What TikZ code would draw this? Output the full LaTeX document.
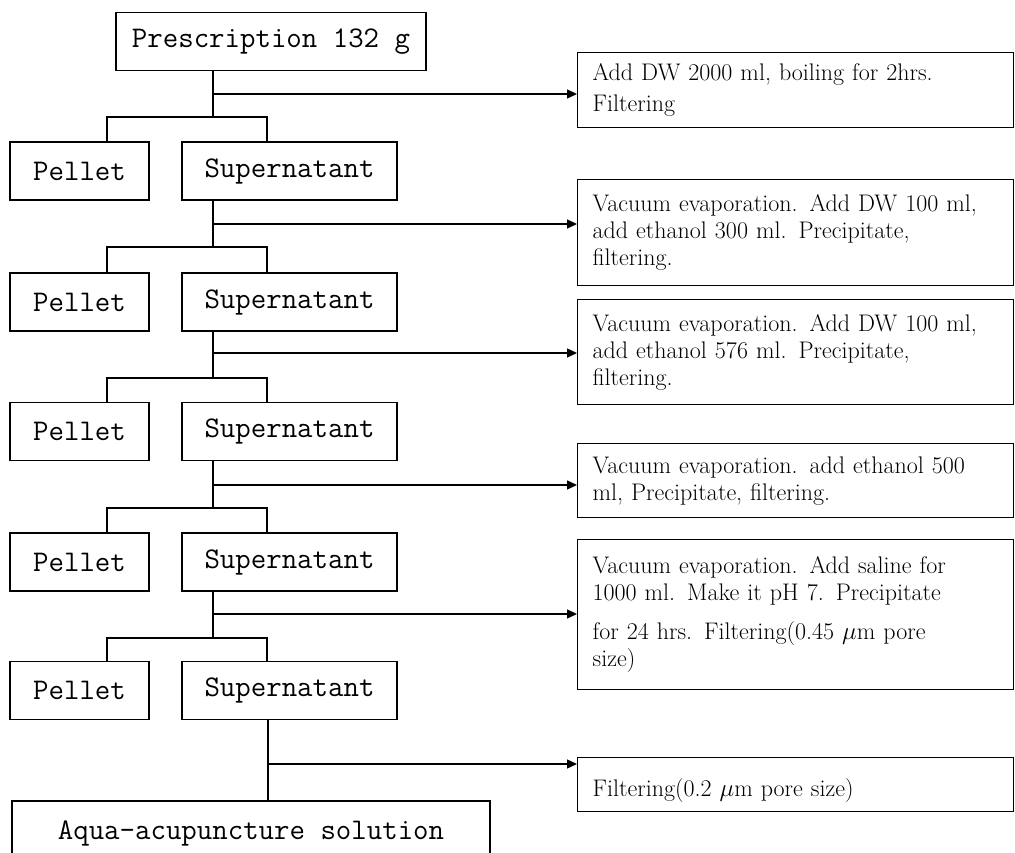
\documentclass[tikz,border=0pt]{standalone}
\usepackage{fontspec}
\usepackage{tikz}
\usetikzlibrary{calc,positioning,arrows.meta}

\begin{document}
\begin{tikzpicture}[x=1pt, y=-1pt, line width=1.3pt,
    stage/.style={draw,rectangle,inner sep=0pt,minimum height=58pt,font=\ttfamily\fontsize{30}{34}\selectfont},
    note/.style={draw,rectangle,anchor=north west,inner xsep=15pt,inner ysep=0pt,text width=406pt,align=left,font=\fontsize{24}{27}\selectfont},
    flow/.style={-{Triangle[length=10pt,width=9pt]}}]
    \useasboundingbox (0,0) rectangle (1015,853);

    % left column (pellet / supernatant pairs)
    \node[stage,minimum width=310pt] (pres) at (271,41.5) {Prescription 132 g};
    \node[stage,minimum width=139pt] (pel1) at (79.5,171) {Pellet};
    \node[stage,minimum width=215pt] (sup1) at (289.5,171) {Supernatant};
    \node[stage,minimum width=139pt] (pel2) at (79.5,302) {Pellet};
    \node[stage,minimum width=215pt] (sup2) at (289.5,302) {Supernatant};
    \node[stage,minimum width=139pt] (pel3) at (79.5,431.5) {Pellet};
    \node[stage,minimum width=215pt] (sup3) at (289.5,431.5) {Supernatant};
    \node[stage,minimum width=139pt] (pel4) at (79.5,562) {Pellet};
    \node[stage,minimum width=215pt] (sup4) at (289.5,562) {Supernatant};
    \node[stage,minimum width=139pt] (pel5) at (79.5,690.5) {Pellet};
    \node[stage,minimum width=215pt] (sup5) at (289.5,690.5) {Supernatant};
    \node[stage,minimum width=478pt,minimum height=64pt] (aqua) at (251,833) {Aqua-acupuncture solution};

    % right column (treatment steps)
    \node[note,minimum height=75pt] (step1) at (577,52) {Add DW 2000 ml, boiling for 2hrs.\\[4pt] Filtering};
    \node[note,minimum height=106pt] (step2) at (577,179) {Vacuum evaporation. Add DW 100 ml,\\ add ethanol 300 ml. Precipitate,\\ filtering.};
    \node[note,minimum height=105pt] (step3) at (577,299) {Vacuum evaporation. Add DW 100 ml,\\ add ethanol 576 ml. Precipitate,\\ filtering.};
    \node[note,minimum height=74pt] (step4) at (577,443) {Vacuum evaporation. add ethanol 500\\ ml, Precipitate, filtering.};
    \node[note,minimum height=150pt] (step5) at (577,539) {Vacuum evaporation. Add saline for\\ 1000 ml. Make it pH 7. Precipitate\\[12pt] for 24 hrs. Filtering(0.45 $\mu$m pore\\ size)};
    \node[note,minimum height=54pt] (step6) at (577,757) {\strut\\[-16pt]Filtering(0.2 $\mu$m pore size)};

    % junctions
    \coordinate (j1) at (213,117);
    \coordinate (j2) at (213,247);
    \coordinate (j3) at (213,378);
    \coordinate (j4) at (213,508);
    \coordinate (j5) at (213,638);
    \coordinate (k1) at (213,94);
    \coordinate (k2) at (213,224);
    \coordinate (k3) at (213,353);
    \coordinate (k4) at (213,485);
    \coordinate (k5) at (213,614);
    \coordinate (k6) at (268,764);

    % splitting into pellet and supernatant
    \draw (pres.south -| j1) -- (j1);
    \draw ($(pel1.north)+(27.5,0)$) |- (j1) -| ($(sup1.north)+(-22.5,0)$);
    \draw (sup1.south -| j2) -- (j2);
    \draw ($(pel2.north)+(27.5,0)$) |- (j2) -| ($(sup2.north)+(-22.5,0)$);
    \draw (sup2.south -| j3) -- (j3);
    \draw ($(pel3.north)+(27.5,0)$) |- (j3) -| ($(sup3.north)+(-22.5,0)$);
    \draw (sup3.south -| j4) -- (j4);
    \draw ($(pel4.north)+(27.5,0)$) |- (j4) -| ($(sup4.north)+(-22.5,0)$);
    \draw (sup4.south -| j5) -- (j5);
    \draw ($(pel5.north)+(27.5,0)$) |- (j5) -| ($(sup5.north)+(-22.5,0)$);
    \draw (sup5.south -| k6) -- (aqua.north -| k6);

    % side arrows to the steps
    \draw[flow] (k1) -- (k1 -| step1.west);
    \draw[flow] (k2) -- (k2 -| step2.west);
    \draw[flow] (k3) -- (k3 -| step3.west);
    \draw[flow] (k4) -- (k4 -| step4.west);
    \draw[flow] (k5) -- (k5 -| step5.west);
    \draw[flow] (k6) -- (k6 -| step6.west);
\end{tikzpicture}
\end{document}
